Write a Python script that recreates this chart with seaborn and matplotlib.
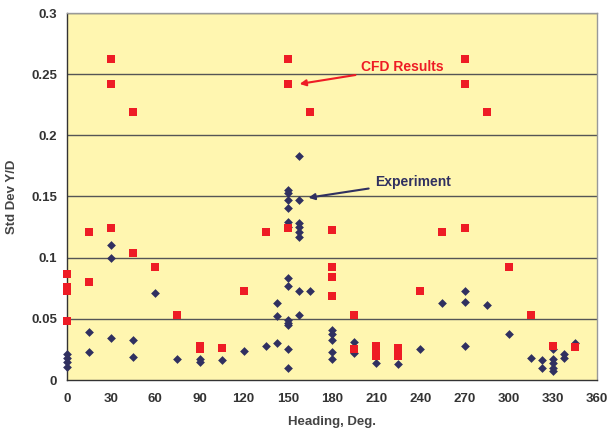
import matplotlib
matplotlib.use("Agg")
import matplotlib.pyplot as plt
import seaborn as sns
import pandas as pd

# CFD results (heading deg, std dev Y/D)
cfd_heading = [0, 0, 0, 0, 15, 15, 30, 30, 30, 45, 45, 60, 75, 90, 90, 105, 120, 135,
               150, 150, 150, 165, 180, 180, 180, 180, 195, 195, 210, 210, 210, 225, 225,
               240, 255, 270, 270, 270, 285, 300, 315, 330, 345]
cfd_std = [0.087, 0.076, 0.073, 0.048, 0.121, 0.080, 0.262, 0.242, 0.124, 0.219, 0.104,
           0.092, 0.053, 0.028, 0.025, 0.026, 0.073, 0.121,
           0.262, 0.242, 0.124, 0.219, 0.123, 0.092, 0.084, 0.069, 0.053, 0.025,
           0.028, 0.024, 0.020, 0.026, 0.020,
           0.073, 0.121, 0.262, 0.242, 0.124, 0.219, 0.092, 0.053, 0.028, 0.027]

# Experiment
exp_heading = [0, 0, 0, 0, 15, 15, 30, 30, 30, 45, 45, 60, 75, 90, 90, 105, 120, 135,
               142.5, 142.5, 142.5,
               150, 150, 150, 150, 150, 150, 150, 150, 150, 150, 150, 150, 150,
               157.5, 157.5, 157.5, 157.5, 157.5, 157.5, 157.5, 157.5,
               165, 180, 180, 180, 180, 180, 195, 195, 210, 225, 240, 255,
               270, 270, 270, 285, 300, 315, 322.5, 322.5,
               330, 330, 330, 330, 330, 337.5, 337.5, 345]
exp_std = [0.021, 0.018, 0.015, 0.011, 0.039, 0.023, 0.110, 0.100, 0.034, 0.033, 0.019,
           0.071, 0.017, 0.017, 0.015, 0.016, 0.024, 0.028,
           0.063, 0.052, 0.030,
           0.155, 0.153, 0.147, 0.141, 0.129, 0.125, 0.083, 0.077, 0.049, 0.047, 0.045, 0.025, 0.010,
           0.183, 0.147, 0.128, 0.125, 0.121, 0.117, 0.073, 0.053,
           0.073, 0.041, 0.038, 0.033, 0.023, 0.017, 0.031, 0.022, 0.014, 0.013, 0.025, 0.063,
           0.073, 0.064, 0.028, 0.061, 0.038, 0.018, 0.016, 0.010,
           0.025, 0.017, 0.014, 0.010, 0.007, 0.021, 0.018, 0.030]

x_ticks = [0, 30, 60, 90, 120, 150, 180, 210, 240, 270, 300, 330, 360]
y_ticks = [0, 0.05, 0.1, 0.15, 0.2, 0.25, 0.3]
y_tick_labels = ["0", "0.05", "0.1", "0.15", "0.2", "0.25", "0.3"]

sns.set_style("white")
plt.rcParams["font.family"] = ["Liberation Sans", "DejaVu Sans"]
plt.rcParams["font.weight"] = "bold"

df_cfd = pd.DataFrame({"Heading": cfd_heading, "Std": cfd_std})
df_exp = pd.DataFrame({"Heading": exp_heading, "Std": exp_std})

fig = plt.figure(figsize=(6.08, 4.36), dpi=100)
ax = fig.add_axes([67 / 608, 1 - 380 / 436, 530 / 608, 367 / 436])
ax.set_facecolor("#FFF6B0")

for y in [0.05, 0.1, 0.15, 0.2, 0.25, 0.3]:
    ax.axhline(y, color="#555555", lw=1.0, zorder=1)

sns.scatterplot(data=df_exp, x="Heading", y="Std", marker="D", s=20,
                color="#303060", linewidth=0, ax=ax, zorder=3, clip_on=False)
sns.scatterplot(data=df_cfd, x="Heading", y="Std", marker="s", s=32,
                color="#EE1C25", linewidth=0, ax=ax, zorder=4, clip_on=False)

ax.set_xlim(0, 360)
ax.set_ylim(0, 0.3)
ax.set_xticks(x_ticks)
ax.set_yticks(y_ticks)
ax.set_yticklabels(y_tick_labels)
ax.tick_params(axis="both", direction="out", length=4, width=1, colors="#333333",
               labelsize=9.5, pad=3)
for lab in ax.get_xticklabels() + ax.get_yticklabels():
    lab.set_fontweight("bold")
    lab.set_color("#333333")
ax.tick_params(axis="x", pad=5)

for side in ["top", "right"]:
    ax.spines[side].set_color("#999999")
    ax.spines[side].set_linewidth(1)
for side in ["left", "bottom"]:
    ax.spines[side].set_color("#333333")
    ax.spines[side].set_linewidth(1)

ax.set_xlabel("Heading, Deg.", fontsize=9.5, fontweight="bold", color="#444444", labelpad=8)
ax.set_ylabel("Std Dev Y/D", fontsize=9.5, fontweight="bold", color="#444444", labelpad=10)

ax.annotate("CFD Results", xy=(158, 0.242), xytext=(200, 0.2555),
            fontsize=10, fontweight="bold", color="#EE1C25", va="center", ha="left",
            arrowprops=dict(arrowstyle="-|>", color="#EE1C25", lw=1.5,
                            mutation_scale=9, shrinkA=2, shrinkB=0))
ax.annotate("Experiment", xy=(164, 0.149), xytext=(209, 0.162),
            fontsize=10, fontweight="bold", color="#303060", va="center", ha="left",
            arrowprops=dict(arrowstyle="-|>", color="#303060", lw=1.5,
                            mutation_scale=9, shrinkA=2, shrinkB=0))

fig.savefig("out.png", dpi=100, facecolor="white")
